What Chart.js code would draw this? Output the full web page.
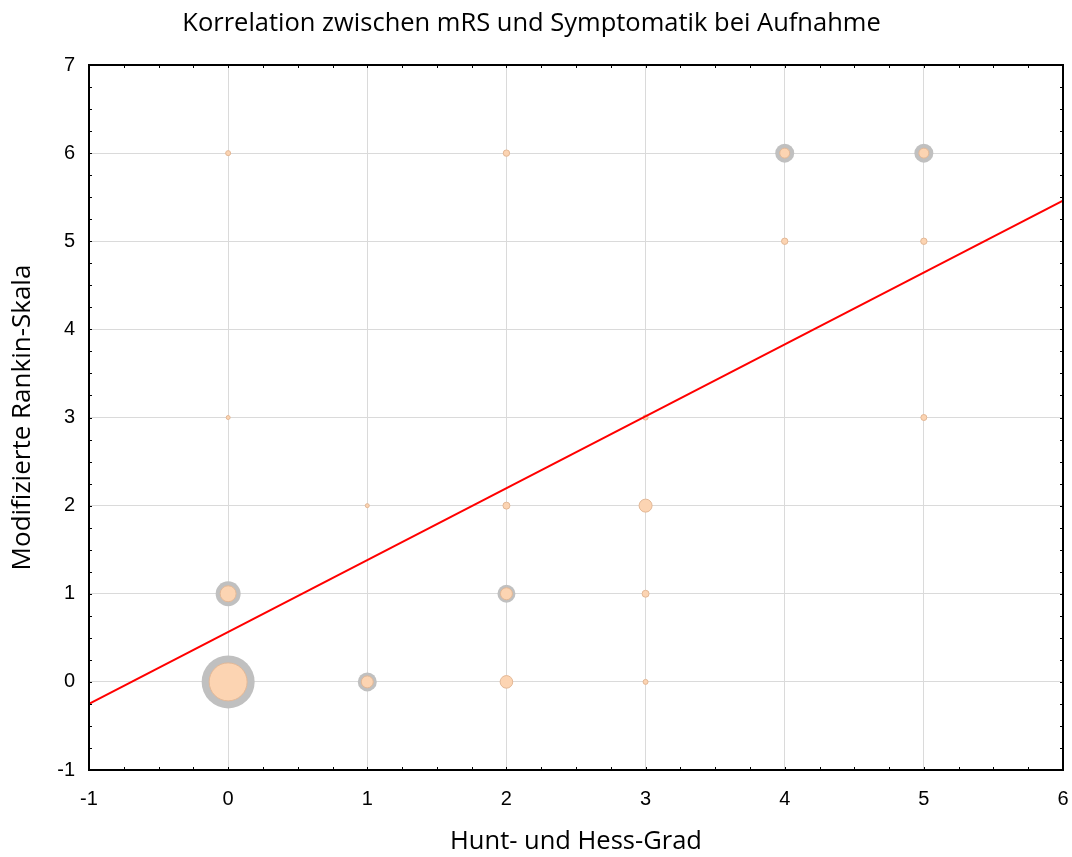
<!DOCTYPE html>
<html>
<head>
<meta charset="utf-8">
<script src="https://cdn.jsdelivr.net/npm/chart.js@4"></script>
<style>
  html, body { margin: 0; padding: 0; background: #ffffff; }
  #wrap { width: 1072px; height: 857px; }
</style>
</head>
<body>
<div id="wrap"><canvas id="c" width="1072" height="857"></canvas></div>
<script>
// ---- data ----
const chartTitle = 'Korrelation zwischen mRS und Symptomatik bei Aufnahme';
const xTitle = 'Hunt- und Hess-Grad';
const yTitle = 'Modifizierte Rankin-Skala';

// Hunt & Hess grade (x) and mRS (y) of each bubble
const huntHess = [0, 2, 4, 5, 4, 5, 0, 3, 5, 1, 2, 3, 0, 2, 3, 0, 1, 2, 3];
const mrs      = [6, 6, 6, 6, 5, 5, 3, 3, 3, 2, 2, 2, 1, 1, 1, 0, 0, 0, 0];
// bubble weights (inner peach bubble, outer grey bubble)
const innerWeight = [2.5, 3.2, 5, 5, 3.2, 3.2, 2, 2.6, 3, 2, 3.5, 6.5, 8, 6, 3.5, 19, 6, 6.3, 2.5];
const outerWeight = [0, 0, 9.5, 9.5, 0, 0, 0, 0, 0, 0, 0, 0, 12.5, 9, 0, 26.5, 9.5, 0, 0];

// regression line end points
const lineX = [-1, 6];
const lineY = [-0.25, 5.46];

const xTicks = [-1, 0, 1, 2, 3, 4, 5, 6];
const yTicks = [-1, 0, 1, 2, 3, 4, 5, 6, 7];

// ---- build datasets ----
const innerData = huntHess.map((x, i) => ({ x: x, y: mrs[i], r: innerWeight[i] }));
const outerData = huntHess.map((x, i) => ({ x: x, y: mrs[i], r: outerWeight[i] }))
                          .filter(p => p.r > 0);
const lineData = lineX.map((x, i) => ({ x: x, y: lineY[i] }));

const frameTicks = {
  id: 'frameTicks',
  afterDatasetsDraw(chart) {
    const { ctx, chartArea: a, scales } = chart;
    const xs = scales.x, ys = scales.y;
    ctx.save();
    ctx.strokeStyle = '#000';
    ctx.lineWidth = 1;
    ctx.beginPath();
    for (let v = xTicks[0]; v <= xTicks[xTicks.length - 1] + 1e-9; v += 0.25) {
      const px = Math.round(xs.getPixelForValue(v)) + 0.5;
      const len = 3;
      ctx.moveTo(px, a.bottom); ctx.lineTo(px, a.bottom - len);
      ctx.moveTo(px, a.top); ctx.lineTo(px, a.top + len);
    }
    for (let v = yTicks[0]; v <= yTicks[yTicks.length - 1] + 1e-9; v += 0.25) {
      const py = Math.round(ys.getPixelForValue(v)) + 0.5;
      const len = 3;
      ctx.moveTo(a.left, py); ctx.lineTo(a.left + len, py);
      ctx.moveTo(a.right, py); ctx.lineTo(a.right - len, py);
    }
    ctx.stroke();
    ctx.lineWidth = 2;
    ctx.strokeRect(a.left, a.top, a.right - a.left, a.bottom - a.top);
    ctx.restore();
  }
};

new Chart(document.getElementById('c'), {
  type: 'bubble',
  data: {
    datasets: [
      {
        type: 'line',
        label: 'Regression',
        data: lineData,
        borderColor: '#ff0000',
        borderWidth: 2,
        pointRadius: 0,
        fill: false,
        order: 0
      },
      {
        label: 'Fälle',
        data: innerData,
        backgroundColor: '#fcd4b2',
        borderColor: '#e3b896',
        borderWidth: 1,
        order: 1
      },
      {
        label: 'Gesamt',
        data: outerData,
        backgroundColor: '#c0c0c0',
        borderColor: '#c0c0c0',
        borderWidth: 0,
        order: 2
      }
    ]
  },
  options: {
    responsive: false,
    animation: false,
    events: [],
    layout: { autoPadding: false, padding: { left: 0, right: 9, top: 0, bottom: 0 } },
    plugins: {
      legend: { display: false },
      tooltip: { enabled: false },
      title: {
        display: true,
        text: chartTitle,
        color: '#000',
        font: { family: 'Open Sans', size: 25.5, weight: 'normal', lineHeight: 1.2 },
        padding: { top: 8, bottom: 26.4 }
      }
    },
    scales: {
      x: {
        type: 'linear',
        min: -1, max: 6,
        afterBuildTicks(s) { s.ticks = xTicks.map(v => ({ value: v })); },
        afterFit(s) { s.height = 87; s.paddingLeft = 0; s.paddingRight = 0; },
        grid: { color: '#dadada', lineWidth: 1, drawTicks: false },
        border: { display: false },
        ticks: {
          color: '#000',
          font: { family: 'Liberation Sans', size: 20 },
          padding: 17
        },
        title: {
          display: true,
          text: xTitle,
          color: '#000',
          font: { family: 'Open Sans', size: 25.5 },
          padding: { top: 0, bottom: 0 }
        }
      },
      y: {
        type: 'linear',
        min: -1, max: 7,
        afterBuildTicks(s) { s.ticks = yTicks.map(v => ({ value: v })); },
        afterFit(s) { s.width = 89; s.paddingTop = 0; s.paddingBottom = 0; },
        grid: { color: '#dadada', lineWidth: 1, drawTicks: false },
        border: { display: false },
        ticks: {
          color: '#000',
          font: { family: 'Liberation Sans', size: 20 },
          padding: 14
        },
        title: {
          display: true,
          text: yTitle,
          color: '#000',
          font: { family: 'Open Sans', size: 26 },
          padding: { top: 7, bottom: 0 }
        }
      }
    }
  },
  plugins: [frameTicks]
});
</script>
</body>
</html>
